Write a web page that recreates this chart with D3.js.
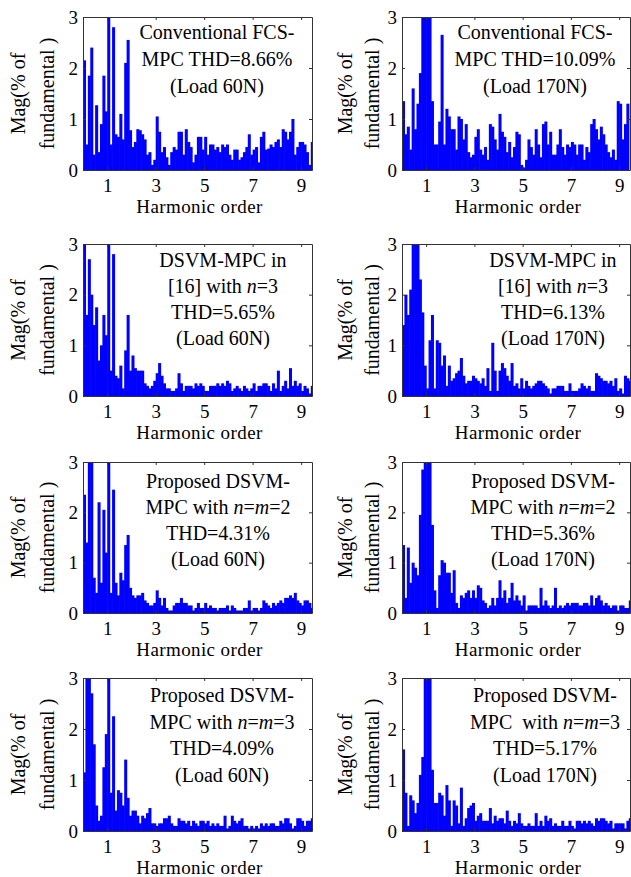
<!DOCTYPE html>
<html>
<head>
<meta charset="utf-8">
<script src="https://cdn.jsdelivr.net/npm/d3@7"></script>
<style>
body { margin: 0; background: #fff; }
svg text { font-family: "Liberation Serif", "Times New Roman", Times, "DejaVu Serif", serif; fill: #000; }
</style>
</head>
<body>
<div id="wrapper"></div>
<script>
// harmonic spectra, one bar every 0.1 harmonic order, starting at 0
const magConv60 = [2.15, 0.5, 1.85, 2.4, 0.3, 1.27, 0.35, 0.9, 1.85, 1.15,
    3.4, 0.5, 2.8, 0.7, 0.65, 1.1, 0.6, 2.1, 2.55, 0.78,
    0.45, 0.55, 0.8, 0.78, 0.7, 0.6, 0.3, 0.35, 0.1, 0.2,
    1.05, 0.75, 0.35, 0.45, 0.25, 0.1, 0.35, 0.45, 0.4, 0.75,
    0.75, 0.3, 0.8, 0.55, 0.45, 0.15, 0.3, 0.65, 0.65, 0.4,
    0.65, 0.3, 0.5, 0.5, 0.4, 0.45, 0.35, 0.5, 0.45, 0.5,
    0.3, 0.2, 0.4, 0.4, 0.2, 0.25, 0.35, 0.45, 0.7, 0.3,
    0.4, 0.45, 0.15, 0.65, 0.75, 0.4, 0.42, 0.5, 0.45, 0.55,
    0.6, 0.45, 0.8, 0.75, 0.6, 0.75, 1.0, 0.3, 0.45, 0.55,
    0.55, 0.5, 0.35, 0.1, 0.55, 0.5]
const magConv170 = [1.35, 0.7, 0.85, 0.4, 1.6, 0.8, 1.3, 1.9, 3.6, 4.3,
    4.0, 3.4, 1.35, 0.5, 0.5, 0.95, 2.65, 0.5, 1.2, 1.05,
    0.8, 0.8, 0.4, 1.05, 1.0, 0.6, 0.9, 0.35, 0.25, 0.3,
    0.65, 0.8, 0.4, 0.3, 0.45, 0.2, 0.9, 0.85, 0.6, 0.4,
    1.1, 0.75, 0.65, 0.35, 0.55, 0.25, 0.45, 0.75, 0.7, 0.1,
    0.05, 0.2, 0.6, 0.45, 0.3, 0.8, 0.5, 0.25, 0.9, 0.95,
    0.5, 0.75, 0.3, 0.3, 0.5, 0.8, 0.45, 0.3, 0.5, 0.45,
    0.55, 0.5, 0.3, 0.5, 0.5, 0.2, 0.45, 0.35, 0.9, 1.0,
    0.8, 0.6, 0.85, 0.7, 0.5, 0.35, 0.25, 0.4, 0.2, 1.35,
    1.3, 0.6, 0.9, 1.3]
const magDsvm60 = [3.3, 1.6, 2.7, 2.0, 1.4, 1.75, 0.7, 1.0, 1.6, 1.2,
    3.5, 0.5, 2.8, 0.4, 0.35, 0.6, 0.15, 0.9, 1.6, 0.5,
    0.8, 0.55, 0.5, 0.5, 0.5, 0.25, 0.2, 0.15, 0.2, 0.3,
    0.45, 0.65, 0.4, 0.25, 0.15, 0.15, 0.1, 0.1, 0.15, 0.45,
    0.25, 0.1, 0.2, 0.2, 0.2, 0.15, 0.25, 0.2, 0.25, 0.2,
    0.1, 0.1, 0.2, 0.2, 0.2, 0.25, 0.2, 0.25, 0.2, 0.3,
    0.25, 0.1, 0.15, 0.2, 0.15, 0.1, 0.2, 0.15, 0.1, 0.15,
    0.25, 0.1, 0.2, 0.2, 0.25, 0.25, 0.2, 0.1, 0.25, 0.15,
    0.5, 0.1, 0.2, 0.3, 0.15, 0.55, 0.2, 0.3, 0.2, 0.25,
    0.1, 0.2, 0.15, 0.05, 0.2, 0.2]
const magDsvm170 = [1.4, 2.0, 1.6, 2.1, 3.6, 4.0, 3.5, 2.3, 1.65, 0.6,
    0.15, 1.1, 1.6, 0.15, 1.1, 1.05, 0.6, 0.8, 0.2, 0.6,
    0.3, 0.35, 0.45, 0.5, 0.75, 0.4, 0.25, 0.3, 0.3, 0.4,
    0.35, 0.3, 0.25, 0.35, 0.2, 0.55, 0.1, 1.05, 0.5, 0.1,
    0.5, 0.65, 0.55, 0.4, 0.3, 0.65, 0.2, 0.25, 0.15, 0.35,
    0.15, 0.3, 0.2, 0.15, 0.2, 0.25, 0.3, 0.3, 0.25, 0.2,
    0.15, 0.05, 0.15, 0.15, 0.2, 0.2, 0.2, 0.1, 0.1, 0.25,
    0.1, 0.1, 0.1, 0.15, 0.25, 0.2, 0.15, 0.2, 0.1, 0.1,
    0.45, 0.4, 0.35, 0.3, 0.3, 0.25, 0.3, 0.2, 0.35, 0.1,
    0.15, 0.05, 0.4, 0.35, 0.3, 0.35]
const magProp2_60 = [2.35, 1.4, 3.6, 3.4, 0.7, 0.4, 2.2, 0.6, 2.05, 1.2,
    3.5, 0.4, 2.45, 0.6, 0.35, 0.8, 0.65, 1.35, 1.55, 0.5,
    0.35, 0.3, 0.35, 0.35, 0.4, 0.25, 0.2, 0.15, 0.15, 0.2,
    0.45, 0.3, 0.15, 0.3, 0.1, 0.05, 0.05, 0.15, 0.2, 0.2,
    0.3, 0.2, 0.2, 0.15, 0.15, 0.05, 0.1, 0.2, 0.1, 0.1,
    0.2, 0.1, 0.15, 0.1, 0.1, 0.05, 0.1, 0.1, 0.1, 0.15,
    0.05, 0.15, 0.1, 0.05, 0.05, 0.05, 0.1, 0.1, 0.25, 0.05,
    0.1, 0.1, 0.05, 0.1, 0.25, 0.2, 0.15, 0.1, 0.2, 0.15,
    0.2, 0.25, 0.2, 0.3, 0.3, 0.35, 0.3, 0.4, 0.25, 0.2,
    0.15, 0.25, 0.25, 0.2, 0.1, 0.25]
const magProp2_170 = [1.35, 0.3, 1.3, 0.6, 1.0, 0.9, 0.75, 1.95, 2.85, 3.8,
    4.2, 3.6, 1.75, 0.45, 0.1, 0.75, 1.05, 1.0, 0.8, 0.8,
    0.4, 0.85, 0.2, 0.1, 0.35, 0.3, 0.4, 0.45, 0.3, 0.45,
    0.3, 0.55, 0.5, 0.25, 0.2, 0.1, 0.15, 0.3, 0.15, 0.3,
    0.65, 0.3, 0.45, 0.2, 0.3, 0.6, 0.25, 0.35, 0.25, 0.15,
    0.35, 0.05, 0.15, 0.15, 0.15, 0.15, 0.1, 0.5, 0.15, 0.25,
    0.15, 0.1, 0.15, 0.5, 0.1, 0.15, 0.1, 0.15, 0.2, 0.15,
    0.2, 0.2, 0.2, 0.15, 0.15, 0.2, 0.2, 0.15, 0.35, 0.15,
    0.3, 0.35, 0.25, 0.15, 0.2, 0.15, 0.1, 0.15, 0.15, 0.05,
    0.15, 0.15, 0.1, 0.1, 0.25, 0.5]
const magProp3_60 = [1.15, 3.4, 3.6, 2.7, 1.7, 0.5, 0.2, 0.3, 1.25, 1.9,
    3.5, 0.75, 2.25, 0.4, 0.8, 0.75, 0.5, 1.4, 0.65, 0.3,
    0.4, 0.4, 0.3, 0.15, 0.3, 0.25, 0.35, 0.45, 0.15, 0.15,
    0.1, 0.15, 0.15, 0.25, 0.25, 0.3, 0.15, 0.1, 0.1, 0.25,
    0.2, 0.2, 0.15, 0.2, 0.1, 0.2, 0.15, 0.1, 0.2, 0.2,
    0.15, 0.2, 0.1, 0.15, 0.1, 0.15, 0.1, 0.1, 0.3, 0.05,
    0.1, 0.3, 0.2, 0.15, 0.2, 0.25, 0.1, 0.1, 0.05, 0.1,
    0.05, 0.1, 0.05, 0.15, 0.1, 0.15, 0.1, 0.15, 0.15, 0.1,
    0.1, 0.2, 0.15, 0.25, 0.25, 0.15, 0.05, 0.1, 0.25, 0.25,
    0.2, 0.1, 0.2, 0.2, 0.25, 0.4]
const magProp3_170 = [1.6, 0.75, 0.1, 0.7, 0.6, 0.35, 0.55, 1.1, 1.45, 3.5,
    4.2, 3.6, 1.2, 0.55, 0.55, 0.75, 0.7, 0.3, 0.9, 0.6,
    0.1, 0.6, 0.5, 0.15, 0.85, 0.1, 0.25, 0.45, 0.5, 0.55,
    0.2, 0.3, 0.35, 0.2, 0.2, 0.2, 0.45, 0.15, 0.3, 0.2,
    0.25, 0.25, 0.15, 0.4, 0.2, 0.1, 0.2, 0.15, 0.35, 0.15,
    0.1, 0.1, 0.15, 0.1, 0.1, 0.35, 0.1, 0.2, 0.1, 0.3,
    0.2, 0.25, 0.1, 0.15, 0.1, 0.1, 0.2, 0.1, 0.1, 0.2,
    0.1, 0.05, 0.2, 0.2, 0.15, 0.2, 0.15, 0.2, 0.15, 0.1,
    0.25, 0.2, 0.25, 0.25, 0.2, 0.15, 0.2, 0.05, 0.15, 0.15,
    0.15, 0.15, 0.05, 0.2, 0.25, 0.25]

const noteConv60 = ['Conventional FCS-', 'MPC THD=8.66%', '(Load 60N)']
const noteConv170 = ['Conventional FCS-', 'MPC THD=10.09%', '(Load 170N)']
const noteDsvm60 = ['DSVM-MPC in', '[16] with n=3', 'THD=5.65%', '(Load 60N)']
const noteDsvm170 = ['DSVM-MPC in', '[16] with n=3', 'THD=6.13%', '(Load 170N)']
const noteProp2_60 = ['Proposed DSVM-', 'MPC with n=m=2', 'THD=4.31%', '(Load 60N)']
const noteProp2_170 = ['Proposed DSVM-', 'MPC with n=m=2', 'THD=5.36%', '(Load 170N)']
const noteProp3_60 = ['Proposed DSVM-', 'MPC with n=m=3', 'THD=4.09%', '(Load 60N)']
const noteProp3_170 = ['Proposed DSVM-', 'MPC  with n=m=3', 'THD=5.17%', '(Load 170N)']

const binWidth = 0.1
const xDomain = [0, 9.45]
const yDomain = [0, 3]
const xTicks = [1, 3, 5, 7, 9]
const yTicks = [0, 1, 2, 3]
const xLabel = 'Harmonic order'
const yLabel = ['Mag(% of', 'fundamental )']

// layout
const fontFamily = '"Liberation Serif", "Times New Roman", Times, "DejaVu Serif", serif'
const colLeft = [83, 402]
const colRight = [312, 630]
const rowTop = [17, 244, 462, 678]
const rowBottom = [170, 396, 613, 831]
const yLabelOffset = [[65, 36], [57, 30]]

const panels = [
    { mag: magConv60, note: noteConv60, col: 0, row: 0, nx: 134, ny: 22, lh: 27 },
    { mag: magConv170, note: noteConv170, col: 1, row: 0, nx: 133, ny: 22, lh: 27 },
    { mag: magDsvm60, note: noteDsvm60, col: 0, row: 1, nx: 140, ny: 23, lh: 26 },
    { mag: magDsvm170, note: noteDsvm170, col: 1, row: 1, nx: 151, ny: 23, lh: 26 },
    { mag: magProp2_60, note: noteProp2_60, col: 0, row: 2, nx: 135, ny: 26, lh: 26 },
    { mag: magProp2_170, note: noteProp2_170, col: 1, row: 2, nx: 141, ny: 26, lh: 26 },
    { mag: magProp3_60, note: noteProp3_60, col: 0, row: 3, nx: 139, ny: 24, lh: 26.5 },
    { mag: magProp3_170, note: noteProp3_170, col: 1, row: 3, nx: 143, ny: 24, lh: 26.5 }
]

const svg = d3.select('#wrapper')
    .append('svg')
        .attr('width', 631)
        .attr('height', 877)

panels.forEach((p, i) => {
    const left = colLeft[p.col]
    const right = colRight[p.col]
    const top = rowTop[p.row]
    const bottom = rowBottom[p.row]

    const x = d3.scaleLinear().domain(xDomain).range([left, right])
    const y = d3.scaleLinear().domain(yDomain).range([bottom, top])

    svg.append('clipPath')
        .attr('id', 'clip' + i)
        .append('rect')
            .attr('x', left)
            .attr('y', top)
            .attr('width', right - left)
            .attr('height', bottom - top)

    // bars overlap a little so no seams show between neighbours
    svg.append('g')
        .attr('clip-path', 'url(#clip' + i + ')')
        .selectAll('rect')
        .data(p.mag)
        .join('rect')
            .attr('x', (d, k) => x(k * binWidth))
            .attr('y', d => y(d))
            .attr('width', x(binWidth) - x(0) + 0.6)
            .attr('height', d => y(0) - y(d))
            .attr('fill', '#0000ff')

    const styleAxis = g => {
        g.attr('font-family', fontFamily).attr('font-size', 19)
        g.selectAll('path, line').attr('stroke', '#333')
        g.selectAll('text').attr('fill', '#000')
    }

    svg.append('g')
        .attr('transform', `translate(0,${bottom})`)
        .call(d3.axisBottom(x).tickValues(xTicks).tickSize(-3).tickSizeOuter(0).tickPadding(9))
        .call(styleAxis)
    svg.append('g')
        .attr('transform', `translate(0,${top})`)
        .call(d3.axisTop(x).tickValues(xTicks).tickSize(-3).tickSizeOuter(0).tickFormat(''))
        .call(styleAxis)
    svg.append('g')
        .attr('transform', `translate(${left},0)`)
        .call(d3.axisLeft(y).tickValues(yTicks).tickSize(-3).tickSizeOuter(0).tickPadding(5).tickFormat(d3.format('d')))
        .call(styleAxis)
    svg.append('g')
        .attr('transform', `translate(${right},0)`)
        .call(d3.axisRight(y).tickValues(yTicks).tickSize(-3).tickSizeOuter(0).tickFormat(''))
        .call(styleAxis)

    // axis titles
    svg.append('text')
        .attr('x', (left + right) / 2 + 2)
        .attr('y', bottom + 43)
        .attr('text-anchor', 'middle')
        .attr('font-size', 19)
        .attr('letter-spacing', 0.4)
        .text(xLabel)

    yLabel.forEach((line, j) => {
        svg.append('text')
            .attr('transform', `translate(${left - yLabelOffset[p.col][j]},${(top + bottom) / 2}) rotate(-90)`)
            .attr('dy', '0.35em')
            .attr('text-anchor', 'middle')
            .attr('font-size', 20)
            .text(line)
    })

    // annotation, with italic n and m
    p.note.forEach((line, j) => {
        const t = svg.append('text')
            .attr('x', left + p.nx)
            .attr('y', top + p.ny + j * p.lh)
            .attr('text-anchor', 'middle')
            .attr('font-size', 20)
            .attr('xml:space', 'preserve')
        line.split(/(\b[nm](?==))/).forEach(part => {
            if (part === '') return
            t.append('tspan')
                .attr('font-style', /^[nm]$/.test(part) ? 'italic' : 'normal')
                .text(part)
        })
    })
})
</script>
</body>
</html>
